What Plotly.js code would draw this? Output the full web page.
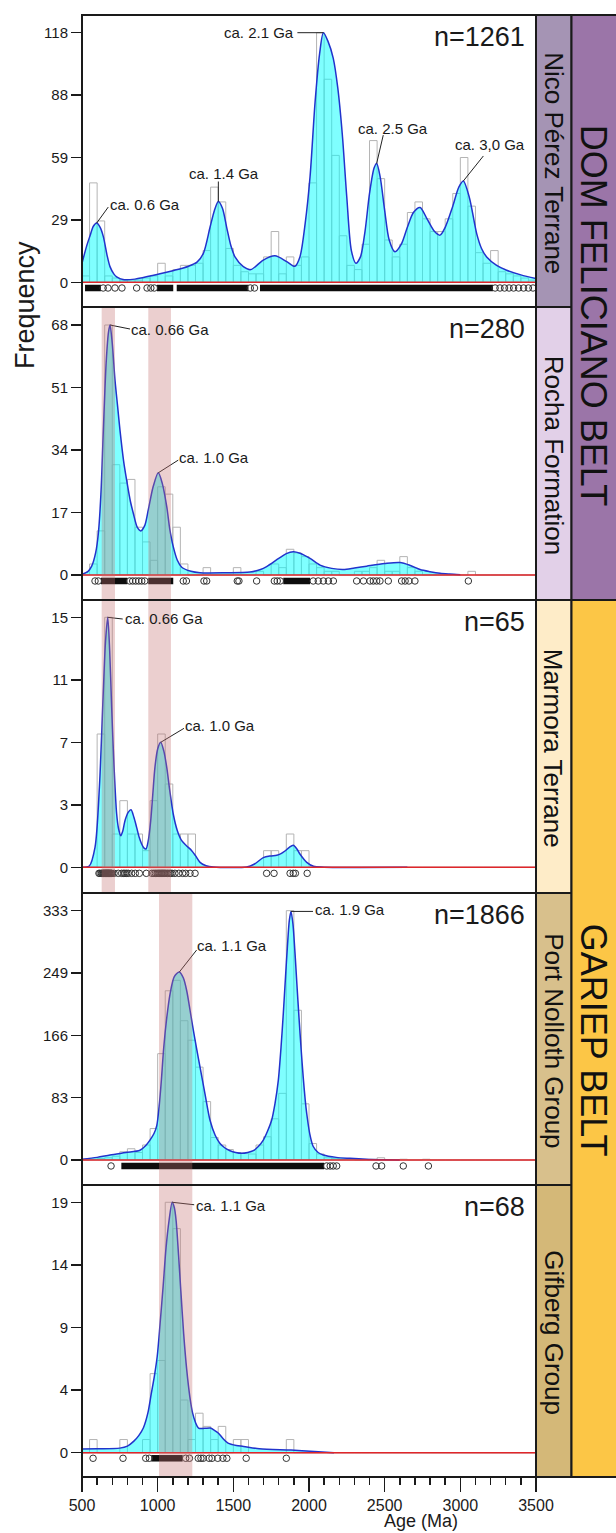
<!DOCTYPE html>
<html><head><meta charset="utf-8">
<script src="https://cdn.plot.ly/plotly-3.0.1.min.js"></script>
<style>html,body{margin:0;padding:0;background:#fff}#chart{width:616px;height:1533px}</style>
</head><body><div id="chart"></div>
<script>
// ---------- DATA ----------
const binWidth = 50;
const binStart = [500,550,600,650,700,750,800,850,900,950,1000,1050,1100,1150,1200,1250,1300,1350,1400,1450,1500,1550,1600,1650,1700,1750,1800,1850,1900,1950,2000,2050,2100,2150,2200,2250,2300,2350,2400,2450,2500,2550,2600,2650,2700,2750,2800,2850,2900,2950,3000,3050,3100,3150,3200,3250,3300,3350,3400,3450];

const counts1 = [3,47,29,3,2,1,1,1,2,3, 9,3,6,8,8,9,15,45,38,16, 8,5,4,4,12,24,4,12,8,12, 47,118,96,60,22,8,6,18,67,49, 20,12,18,33,38,30,24,24,30,42, 59,36,14,9,15,5,4,3,2,1];
const counts2 = [0,3,12,68,30,25,26,13,9,4, 24,22,13,3,0,0,2,0,0,0, 2,0,0,1,0,3,2,7,6,5, 3,2,1,1,0,0,1,1,2,4, 1,1,5,2,1,0,0,0,0,0, 0,1,0,0,0,0,0,0,0,0];
const counts3 = [0,0,8,15,2,4,2,2,1,4, 8,5,2,2,2,0,0,0,0,0, 0,0,0,0,1,1,0,2,1,1, 0,0,0,0,0,0,0,0,0,0, 0,0,0,0,0,0,0,0,0,0, 0,0,0,0,0,0,0,0,0,0];
const counts4 = [0,1,2,3,5,11,15,10,20,42, 142,226,240,186,160,124,78,30,20,14, 10,9,8,20,31,55,89,333,200,75, 22,8,3,2,1,1,0,0,1,3, 0,0,1,0,0,1,0,0,0,0, 0,0,0,0,0,0,0,0,0,0];
const counts5 = [0,1,0,0,0,1,0,0,1,6, 7,19,17,4,1,3,2,1,2,0, 1,1,0,0,0,0,0,1,0,0, 0,0,0,0,0,0,0,0,0,0, 0,0,0,0,0,0,0,0,0,0, 0,0,0,0,0,0,0,0,0,0];

const kde1Age = [500,530,553,575,597,620,641,665,685,710,729,771,850,950,1015,1100,1200,1260,1302,1346,1375,1401,1428,1456,1485,1511,1566,1615,1698,1775,1853,1907,1940,1975,2007,2040,2070,2095,2125,2160,2190,2220,2250,2280,2310,2340,2370,2400,2430,2447,2470,2500,2530,2568,2610,2650,2690,2734,2780,2830,2866,2900,2950,2990,3020,3060,3108,3140,3174,3240,3306,3400,3500];
const kde1Val = [9,17,22,26.5,28,26,21.6,13,7.4,4,2.6,1.3,1.5,3,4,5.5,7.5,9.5,13.7,26,34,38.2,35,26,17,12,7.4,6,10.5,12.5,9.8,7.6,12,28,50,85,108,118,114,106,92,70,40,15,9,12,24,42,54,56.2,50,34,20,14.4,18,26,33,35.4,30,24,22.3,26,36,45,47.9,40,23,16,12,8,5.7,3.5,1.8];

const kde2Age = [500,540,564,590,608,625,641,660,675,685,700,718,735,751,775,795,820,839,865,888,915,938,970,1004,1030,1060,1080,1103,1130,1159,1220,1280,1450,1610,1680,1720,1800,1850,1896,1940,2007,2073,2150,2227,2300,2381,2500,2601,2670,2734,2800,2866,2930,3000];
const kde2Val = [0.2,1,2.4,6,11.3,22,39.4,58,66,68,63,53,46,39.4,31,25.8,20,16.8,13,12,13.5,17.7,24,27.8,25,18.6,12.5,7.7,4,2.1,1,0.6,0.6,0.8,1.5,2.3,4.5,5.8,6.3,5.9,4.5,2.7,1.8,1.5,1.9,2.4,3.1,3.4,2.6,1.5,0.9,0.45,0.25,0.1];

const kde3Age = [500,548,586,615,641,655,670,683,696,712,729,742,756,770,784,805,824,843,861,878,894,910,923,938,954,968,982,1000,1020,1040,1060,1080,1103,1130,1159,1190,1225,1250,1280,1320,1368,1588,1640,1698,1745,1787,1815,1841,1870,1896,1920,1940,1965,1985,2030,2100,2650];
const kde3Val = [0,0.08,1.2,4.8,10.6,13.5,15,13,9.6,6,3.2,2.3,1.9,2.2,2.8,3.3,3.46,3,2.4,1.8,1.4,1.15,1.1,1.6,2.8,4.4,6,7.1,7.5,7,6,4.6,3.2,2.2,1.6,1.3,1.0,0.7,0.3,0.1,0.02,0.02,0.2,0.58,0.68,0.72,0.82,0.98,1.2,1.32,1.1,0.8,0.5,0.3,0.06,0.01,0];

const kde4Age = [500,600,685,790,883,920,949,975,994,1010,1025,1040,1060,1082,1110,1143,1170,1192,1214,1236,1258,1280,1313,1346,1380,1412,1445,1478,1515,1555,1595,1632,1665,1698,1725,1753,1775,1797,1815,1830,1845,1857,1870,1881,1894,1907,1920,1934,1948,1962,1975,1985,2005,2028,2060,2094,2180,2271,2381,2500,2600];
const kde4Val = [1,3.5,6.7,10,13,19,26.6,35,46,72,108,150,190,222,245,251,243,226,200,173,148,124,88,53,33,22,16,12.4,10,8.9,10,12.4,18,26.6,38,53,75,106,150,195,245,284,320,332,315,278,235,190,148,110,80,62,35,18,10,6.7,3.5,2.2,1,0.3,0];

const kde5Age = [500,600,750,800,841,875,906,935,958,978,997,1016,1036,1055,1075,1096,1110,1122,1138,1153,1172,1192,1212,1231,1250,1270,1310,1348,1375,1400,1430,1465,1520,1568,1672,1881,2036,2165];
const kde5Val = [0.28,0.3,0.35,0.5,0.86,1.3,1.9,3,4.5,5.8,7.3,9.8,12.6,15.5,17.6,19,18.6,17.6,15,12.3,9,6.3,4.3,3,2.3,1.87,1.85,1.87,1.7,1.5,1.1,0.73,0.55,0.48,0.3,0.2,0.1,0];

// individual ages (open circles) and densely packed age ranges
const circles1 = [640,672,718,764,861,930,955,978,1612,1640,3230,3262,3292,3322,3352,3385,3418,3450,3480];
const dense1Start = [520,995,1126,1676];
const dense1End   = [625,1103,1600,3216];
const circles2 = [586,608,815,835,855,875,895,915,1169,1190,1306,1324,1526,1537,1654,1771,1790,1810,2028,2061,2095,2128,2161,2315,2360,2403,2425,2447,2469,2524,2612,2635,2660,2700,3053];
const dense2Start = [625,938,1830];
const dense2End   = [800,1103,2007];
const circles3 = [612,619,628,633,638,642,645,648,652,655,658,661,664,667,670,673,676,679,682,686,690,694,698,712,740,762,775,784,795,806,828,852,879,925,962,975,985,995,1003,1010,1017,1024,1030,1036,1042,1048,1055,1065,1075,1085,1095,1114,1140,1165,1185,1214,1247,1720,1769,1875,1896,1910,1988];
const dense3Start = [];
const dense3End   = [];
const circles4 = [692,2117,2140,2160,2183,2443,2480,2623,2789];
const dense4Start = [760];
const dense4End   = [2100];
const circles5 = [573,771,921,945,1185,1210,1268,1286,1301,1340,1359,1397,1431,1457,1585,1850];
const dense5Start = [958];
const dense5End   = [1165];

// peaks
const peaks1Age = [597,1401,2095,2447,3020];
const peaks1Val = [28,38.2,118,56.2,47.9];
const peaks1Label = ['ca. 0.6 Ga','ca. 1.4 Ga','ca. 2.1 Ga','ca. 2.5 Ga','ca. 3,0 Ga'];
const peaks2Age = [685,1004];
const peaks2Val = [68,27.8];
const peaks2Label = ['ca. 0.66 Ga','ca. 1.0 Ga'];
const peaks3Age = [670,1020];
const peaks3Val = [15,7.5];
const peaks3Label = ['ca. 0.66 Ga','ca. 1.0 Ga'];
const peaks4Age = [1143,1881];
const peaks4Val = [251,332];
const peaks4Label = ['ca. 1.1 Ga','ca. 1.9 Ga'];
const peaks5Age = [1096];
const peaks5Val = [19];
const peaks5Label = ['ca. 1.1 Ga'];

// highlighted age bands [from, to]
const bandsUpper = [[630,718],[938,1088]];   // Rocha Formation & Marmora Terrane
const bandsLower = [[1009,1229]];            // Port Nolloth & Gifberg

const sampleN = ['n=1261','n=280','n=65','n=1866','n=68'];
const unitNames = ['Nico Pérez Terrane','Rocha Formation','Marmora Terrane','Port Nolloth Group','Gifberg Group'];
const beltNames = ['DOM FELICIANO BELT','GARIEP BELT'];

const yTickMax = [118,68,15,333,19];
const yTickText = [['0','29','59','88','118'],['0','17','34','51','68'],['0','3','7','11','15'],['0','83','166','249','333'],['0','4','9','14','19']];
const xTickVals = [500,1000,1500,2000,2500,3000,3500];
const xTickText = ['500','1000','1500','2000','2500','3000','3500'];

// ---------- STYLE / LAYOUT ----------
const W = 616, H = 1533;
const pL = 82, pR = 536, stripR = 571.5;
const panelTop = [15,307,600,893,1185];
const panelBot = [307,600,893,1185,1477];
const yRange = [[-11.68,126.37],[-6.8,72.9],[-1.54,16.04],[-33.4,356.6],[-1.84,20.31]];
const rowY = [-2.7,-1.63,-0.36,-8,-0.42];
const unitColors = ['#a594b4','#e2d0e8','#feecc8','#d8c08c','#d4b878'];
const beltColors = ['#9b75a8','#fcc646'];
const beltSpan = [[0,1],[2,4]];
const FONT = 'Liberation Sans, Arial, sans-serif';
const INK = '#1a1a1a';

// leader-line end [dx,dy] and text anchor [dx,dy] in screen pixels (y down)
const labelLayout = [
  [{l:[11.6,-16],t:[11,-18.5],a:'left'},{l:[0,-20],t:[6,-28],a:'center'},{l:[-26,0],t:[-27,0],a:'right'},{l:[6.6,-28.3],t:[16.5,-35.3],a:'center'},{l:[20,-25],t:[27,-36],a:'center'}],
  [{l:[20,4],t:[19,4],a:'left'},{l:[20,-12.7],t:[19,-15.7],a:'left'}],
  [{l:[15,1.7],t:[15,1],a:'left'},{l:[23.3,-14],t:[22.5,-17],a:'left'}],
  [{l:[17.3,-22],t:[16,-27],a:'left'},{l:[22,0],t:[22,-1.5],a:'left'}],
  [{l:[22,2.5],t:[21.5,3],a:'left'}]
];

const panels = [
  {counts:counts1,kx:kde1Age,ky:kde1Val,circ:circles1,ds:dense1Start,de:dense1End,pa:peaks1Age,pv:peaks1Val,pl:peaks1Label},
  {counts:counts2,kx:kde2Age,ky:kde2Val,circ:circles2,ds:dense2Start,de:dense2End,pa:peaks2Age,pv:peaks2Val,pl:peaks2Label},
  {counts:counts3,kx:kde3Age,ky:kde3Val,circ:circles3,ds:dense3Start,de:dense3End,pa:peaks3Age,pv:peaks3Val,pl:peaks3Label},
  {counts:counts4,kx:kde4Age,ky:kde4Val,circ:circles4,ds:dense4Start,de:dense4End,pa:peaks4Age,pv:peaks4Val,pl:peaks4Label},
  {counts:counts5,kx:kde5Age,ky:kde5Val,circ:circles5,ds:dense5Start,de:dense5End,pa:peaks5Age,pv:peaks5Val,pl:peaks5Label}
];

const px = v => v / W;
const py = v => (H - v) / H;

const traces = [];
const shapes = [];
const annotations = [];
const layout = {
  width: W, height: H, margin: {l:0,r:0,t:0,b:0},
  paper_bgcolor: '#ffffff', plot_bgcolor: 'rgba(0,0,0,0)',
  showlegend: false, font: {family: FONT, color: INK},
  hovermode: false
};

panels.forEach((p, k) => {
  const s = k === 0 ? '' : String(k + 1);
  const xa = 'x' + s, ya = 'y' + s;
  // histogram bars
  traces.push({type:'bar', x: binStart.map(b => b + binWidth/2), y: p.counts, width: binWidth,
    xaxis: xa, yaxis: ya, marker: {color:'rgba(0,0,0,0)', line:{color:'#b4b4b4', width:1}}, hoverinfo:'skip'});
  // KDE curve
  traces.push({type:'scatter', mode:'lines', x: p.kx, y: p.ky, xaxis: xa, yaxis: ya,
    line: {color:'#2233cc', width:1.5, shape:'spline', smoothing:0.8},
    fill:'tozeroy', fillcolor:'rgba(0,255,255,0.5)', hoverinfo:'skip'});
  // dense ranges
  const dx = [], dy = [];
  p.ds.forEach((a, i) => { dx.push(a, p.de[i], null); dy.push(rowY[k], rowY[k], null); });
  if (dx.length) traces.push({type:'scatter', mode:'lines', x: dx, y: dy, xaxis: xa, yaxis: ya,
    line: {color:'#0d0d0d', width:6.5}, hoverinfo:'skip', cliponaxis:false});
  // individual ages
  traces.push({type:'scatter', mode:'markers', x: p.circ, y: p.circ.map(() => rowY[k]), xaxis: xa, yaxis: ya,
    marker: {symbol:'circle-open', size:6.5, color:'#333333', line:{width:1}}, hoverinfo:'skip', cliponaxis:false});

  // axes
  const dom = [py(panelBot[k]), py(panelTop[k])];
  const xaxis = {domain:[px(pL), px(pR)], range:[500,3500], anchor: ya, showgrid:false, zeroline:false,
    showline:false, ticks:'', showticklabels:false, fixedrange:true};
  if (k === 4) {
    Object.assign(xaxis, {ticks:'outside', ticklen:14, tickwidth:1.5, tickcolor:INK, showticklabels:true,
      tickmode:'array', tickvals:xTickVals, ticktext:xTickText, tickfont:{size:16, color:INK, family:FONT},
      minor:{tickmode:'linear', tick0:500, dtick:100, ticks:'outside', ticklen:7, tickwidth:1.5, tickcolor:INK, showgrid:false}});
  }
  layout['xaxis' + s] = xaxis;
  const m = yTickMax[k];
  layout['yaxis' + s] = {domain: dom, range: yRange[k], anchor: xa, showgrid:false, zeroline:false, showline:false,
    ticks:'outside', ticklen:10, tickwidth:1.5, tickcolor:INK, tickmode:'array',
    tickvals:[0, m/4, m/2, 3*m/4, m], ticktext: yTickText[k], tickfont:{size:15, color:INK, family:FONT}, fixedrange:true};

  // red baseline
  shapes.push({type:'line', layer:'above', xref: xa + ' domain', x0:0, x1:1, yref: ya, y0:0, y1:0,
    line:{color:'#e0262a', width:1.5}});

  // leader lines + labels
  p.pa.forEach((age, i) => {
    const L = labelLayout[k][i];
    shapes.push({type:'line', layer:'above', xref: xa, yref: ya, xsizemode:'pixel', ysizemode:'pixel',
      xanchor: age, yanchor: p.pv[i], x0:0, y0:0, x1:L.l[0], y1:-L.l[1], line:{color:'#222', width:1}});
    annotations.push({xref: xa, yref: ya, x: age, y: p.pv[i], xshift: L.t[0], yshift: -L.t[1],
      text: p.pl[i], showarrow:false, xanchor: L.a, yanchor:'middle', font:{size:15, color:INK, family:FONT}});
  });

  // n label
  annotations.push({xref:'paper', yref:'paper', x: px(527), y: py(panelTop[k] + 22), text: sampleN[k],
    showarrow:false, xanchor:'right', yanchor:'middle', font:{size:27, color:INK, family:FONT}});

  // unit strip
  shapes.push({type:'rect', layer:'above', xref:'paper', yref:'paper', x0: px(pR), x1: px(stripR),
    y0: py(panelBot[k]), y1: py(panelTop[k]), fillcolor: unitColors[k], line:{color:INK, width:2}});
  annotations.push({xref:'paper', yref:'paper', x: px((pR + stripR)/2), y: py((panelTop[k] + panelBot[k])/2 + 2),
    text: unitNames[k], textangle: 90, showarrow:false, xanchor:'center', yanchor:'middle',
    font:{size:26, color:'#111', family:FONT}});
});

// highlighted bands
[[1, bandsUpper],[2, bandsUpper],[3, bandsLower],[4, bandsLower]].forEach(([k, bands]) => {
  const s = String(k + 1);
  bands.forEach(b => shapes.push({type:'rect', layer:'above', xref:'x' + s, yref:'y' + s + ' domain',
    x0: b[0], x1: b[1], y0:0, y1:1, fillcolor:'rgb(195,115,115)', opacity:0.34, line:{width:0}}));
});

// panel borders
panels.forEach((p, k) => {
  shapes.push({type:'rect', layer:'above', xref:'paper', yref:'paper', x0: px(pL), x1: px(pR),
    y0: py(panelBot[k]), y1: py(panelTop[k]), fillcolor:'rgba(0,0,0,0)', line:{color:INK, width:2}});
});

// belt strips
beltNames.forEach((name, j) => {
  const t = panelTop[beltSpan[j][0]], b = panelBot[beltSpan[j][1]];
  shapes.push({type:'rect', layer:'above', xref:'paper', yref:'paper', x0: px(stripR), x1: px(W + 3),
    y0: py(b), y1: py(t), fillcolor: beltColors[j], line:{color:INK, width:2}});
  annotations.push({xref:'paper', yref:'paper', x: px((stripR + W)/2), y: py((t + b)/2 + (j === 0 ? 8 : 2)),
    text: name, textangle: 90, showarrow:false, xanchor:'center', yanchor:'middle',
    font:{size:36, color:'#111', family:FONT}});
});

// axis titles
annotations.push({xref:'paper', yref:'paper', x: px(25), y: py(305), text:'Frequency', textangle:-90,
  showarrow:false, xanchor:'center', yanchor:'middle', font:{size:27, color:INK, family:FONT}});
annotations.push({xref:'paper', yref:'paper', x: px(421), y: py(1521), text:'Age (Ma)',
  showarrow:false, xanchor:'center', yanchor:'middle', font:{size:18, color:INK, family:FONT}});

layout.shapes = shapes;
layout.annotations = annotations;

Plotly.newPlot('chart', traces, layout, {staticPlot:true, displayModeBar:false});
</script></body></html>
